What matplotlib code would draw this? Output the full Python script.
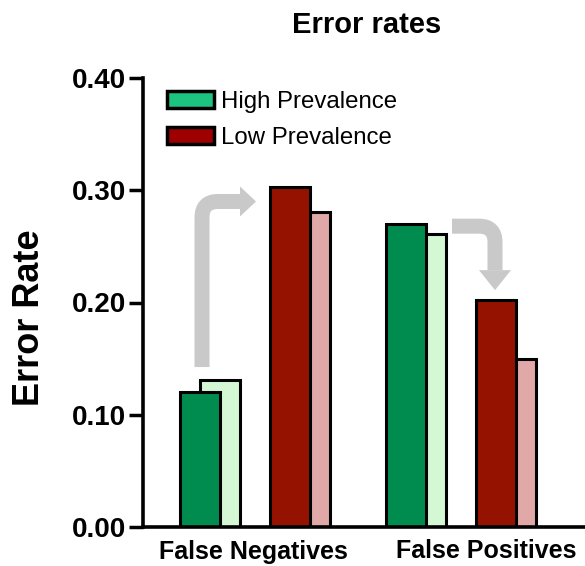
import matplotlib
matplotlib.use("Agg")
import matplotlib.pyplot as plt
from matplotlib.patches import Patch, PathPatch, Polygon
from matplotlib.path import Path
import numpy as np

plt.rcParams['font.family'] = ['Liberation Sans', 'DejaVu Sans']

# ---- data ----
categories = ["False Negatives", "False Positives"]
high_main = [0.12, 0.27]
high_second = [0.131, 0.261]
low_main = [0.303, 0.202]
low_second = [0.281, 0.150]
legend_labels = ["High Prevalence", "Low Prevalence"]
yticks = [0.00, 0.10, 0.20, 0.30, 0.40]

# ---- style ----
c_high = "#008C4F"
c_high_l = "#D4F8D4"
c_low = "#961200"
c_low_l = "#E1A8A8"
leg_high = "#1CC47F"
leg_low = "#9E0000"
arrow_c = "#C9C9C9"

fig = plt.figure(figsize=(5.85, 5.66), dpi=100)
W, H = 585, 566
ax = fig.add_axes([143 / W, 39 / H, 442 / W, 449 / H])

group_pos = np.array([0.0, 5.15])
bw = 1.0
off_hm, off_hs, off_lm, off_ls = 0.0, 0.5, 2.25, 2.75
lw_edge = 2.2

ax.bar(group_pos + off_hs, high_second, bw, color=c_high_l, edgecolor="black", linewidth=lw_edge, zorder=2)
ax.bar(group_pos + off_hm, high_main, bw, color=c_high, edgecolor="black", linewidth=lw_edge, zorder=3)
ax.bar(group_pos + off_ls, low_second, bw, color=c_low_l, edgecolor="black", linewidth=lw_edge, zorder=2)
ax.bar(group_pos + off_lm, low_main, bw, color=c_low, edgecolor="black", linewidth=lw_edge, zorder=3)

ax.set_xlim(-1.425, 9.625)
ax.set_ylim(0, 0.40)
ax.set_yticks(yticks)
ax.set_yticklabels([f"{v:.2f}" for v in yticks], fontsize=20, fontweight="bold")
ax.set_xticks([1.33, 7.15])
ax.set_xticklabels(categories, fontsize=18, fontweight="bold")
ax.tick_params(axis="x", length=0, pad=9)
ax.tick_params(axis="y", length=10, width=2.5, pad=2)
for s in ["top", "right"]:
    ax.spines[s].set_visible(False)
for s in ["left", "bottom"]:
    ax.spines[s].set_linewidth(2.6)
    ax.spines[s].set_zorder(5)

# ---- arrows (annotation shapes) ----
def px2dx(p):
    return p * (ax.get_xlim()[1] - ax.get_xlim()[0]) / 442.0

def px2dy(p):
    return p * (ax.get_ylim()[1] - ax.get_ylim()[0]) / 449.0

shaft_lw = 15 * 72 / 100.0

# FN arrow: up then right
x0 = 0.05
yb = 0.1425
yh = 0.290
r = 16
x_head_base = 1.4 - px2dx(16)
verts = [(x0, yb), (x0, yh - px2dy(r)), (x0, yh), (x0 + px2dx(r), yh), (x_head_base, yh)]
codes = [Path.MOVETO, Path.LINETO, Path.CURVE3, Path.CURVE3, Path.LINETO]
ax.add_patch(PathPatch(Path(verts, codes), fill=False, edgecolor=arrow_c, lw=shaft_lw,
                       capstyle="butt", joinstyle="round", zorder=1))
ax.add_patch(Polygon([(x_head_base, yh + px2dy(15)), (1.4, yh), (x_head_base, yh - px2dy(15))],
                     closed=True, facecolor=arrow_c, edgecolor="none", zorder=1))

# FP arrow: right then down
xs = 6.3
yt = 0.268
xv = 7.375
tip_y = 0.211
y_head_base = tip_y + px2dy(20)
verts = [(xs, yt), (xv - px2dx(r), yt), (xv, yt), (xv, yt - px2dy(r)), (xv, y_head_base)]
ax.add_patch(PathPatch(Path(verts, codes), fill=False, edgecolor=arrow_c, lw=shaft_lw,
                       capstyle="butt", joinstyle="round", zorder=1))
ax.add_patch(Polygon([(xv - px2dx(16), y_head_base), (xv, tip_y), (xv + px2dx(16), y_head_base)],
                     closed=True, facecolor=arrow_c, edgecolor="none", zorder=1))

# ---- legend ----
handles = [Patch(facecolor=leg_high, edgecolor="black", linewidth=2.5),
           Patch(facecolor=leg_low, edgecolor="black", linewidth=2.5)]
ax.legend(handles, legend_labels, loc="upper left", bbox_to_anchor=(0.055, 0.972),
          frameon=False, fontsize=17.3, borderpad=0, handlelength=1.95, handleheight=0.75,
          handletextpad=0.3, labelspacing=0.58, borderaxespad=0)

# ---- titles ----
fig.text(367 / W, 1 - 33 / H, "Error rates", ha="center", va="baseline", fontsize=21, fontweight="bold")
fig.text(30 / W, 1 - 318 / H, "Error Rate", ha="center", va="center", rotation=90,
         fontsize=26, fontweight="bold")

fig.savefig("out.png", dpi=100)
